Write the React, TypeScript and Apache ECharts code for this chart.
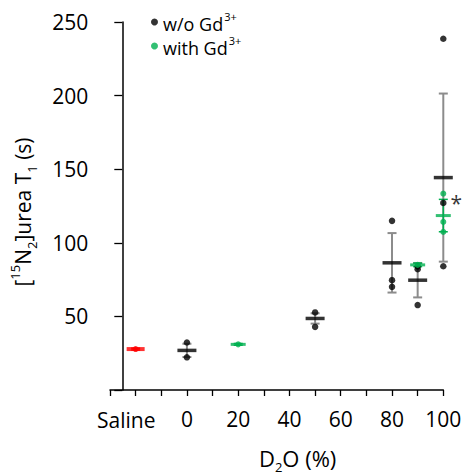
import React, { useEffect, useRef } from 'react';
import * as echarts from 'echarts';

// ---- data ----
const salineX = [-20];
const salineMean = [27.8];
const salineErr = [0.6];
const salinePoints: [number, number][] = [[-20, 27.8]];

const blackX = [0, 50, 80, 90, 100];
const blackMean = [26.9, 48.6, 86.4, 74.6, 144.3];
const blackErr = [4.5, 3.5, 20.2, 11.7, 57.1];
const blackPoints: [number, number][] = [
  [0, 32.3], [0, 22.2],
  [50, 52.7], [50, 42.9],
  [80, 114.9], [80, 74.6], [80, 70.1],
  [90, 84.0], [90, 82.1], [90, 57.7],
  [100, 238.6], [100, 127.1], [100, 84.1],
];

const greenX = [20, 90, 100];
const greenMean = [31.0, 85.0, 118.5];
const greenErr = [0.6, 1.2, 11.0];
const greenPoints: [number, number][] = [
  [20, 31.0], [90, 85.0],
  [100, 133.4], [100, 114.2], [100, 107.4],
];

const xLabels = [0, 20, 40, 60, 80, 100];
const yTicks = [50, 100, 150, 200, 250];
const starPoint: [number, number] = [100, 127.1];

const FONT = 'Open Sans';

function errData(xs: number[], m: number[], e: number[]) {
  return xs.map((x, i) => [x, m[i] - e[i], m[i] + e[i]]);
}
function meanData(xs: number[], m: number[]) {
  return xs.map((x, i) => [x, m[i]]);
}

function errSeries(name: string, data: number[][], color: string, lw: number) {
  return {
    type: 'custom',
    name,
    data,
    z: 2,
    renderItem: (_p: any, api: any) => {
      const x = api.value(0);
      const lo = api.coord([x, api.value(1)]);
      const hi = api.coord([x, api.value(2)]);
      const cap = 4.5;
      const st = { stroke: color, lineWidth: lw };
      return {
        type: 'group',
        children: [
          { type: 'line', shape: { x1: lo[0], y1: lo[1], x2: hi[0], y2: hi[1] }, style: st },
          { type: 'line', shape: { x1: lo[0] - cap, y1: lo[1], x2: lo[0] + cap, y2: lo[1] }, style: st },
          { type: 'line', shape: { x1: hi[0] - cap, y1: hi[1], x2: hi[0] + cap, y2: hi[1] }, style: st },
        ],
      };
    },
  };
}

export default function App() {
  const ref = useRef<HTMLDivElement>(null);
  useEffect(() => {
    if (!ref.current) return;
    const chart = echarts.init(ref.current, null, { renderer: 'svg' });
    const GREEN = '#00b050';
    const option: any = {
      animation: false,
      backgroundColor: '#ffffff',
      textStyle: { fontFamily: FONT },
      grid: { left: 110, right: 19.7, top: 22, bottom: 84, containLabel: false, outerBoundsMode: 'none' },
      legend: {
        data: ['wo', 'with'],
        orient: 'vertical',
        left: 146,
        top: 6,
        icon: 'circle',
        itemWidth: 7,
        itemHeight: 7,
        itemGap: 2,
        formatter: (n: string) => (n === 'wo' ? '{a|w/o Gd}{s|3+}' : '{a|with Gd}{s|3+}'),
        textStyle: {
          rich: {
            a: { fontFamily: FONT, fontSize: 18, color: '#000', lineHeight: 22, verticalAlign: 'bottom' },
            s: { fontFamily: FONT, fontSize: 11, color: '#000', lineHeight: 22, verticalAlign: 'top', padding: [0, 0, 0, 1] },
          },
        },
      },
      xAxis: {
        type: 'value',
        min: -30,
        max: 100,
        interval: 10,
        name: '{a|D}{b|2}{a|O (%)}',
        nameLocation: 'middle',
        nameGap: 57,
        nameTextStyle: {
          padding: [0, 0, 0, 42],
          rich: {
            a: { fontFamily: FONT, fontSize: 22, color: '#000', lineHeight: 26, verticalAlign: 'top' },
            b: { fontFamily: FONT, fontSize: 13, color: '#000', lineHeight: 12, verticalAlign: 'bottom' },
          },
        },
        axisLine: { onZero: false, lineStyle: { color: '#000', width: 1.5 } },
        axisTick: { show: true, length: 6, lineStyle: { color: '#000', width: 1.3 } },
        splitLine: { show: false },
        axisLabel: {
          margin: 18,
          fontFamily: FONT,
          fontSize: 21,
          color: '#000',
          showMinLabel: true,
          showMaxLabel: true,
          formatter: (v: number) => (xLabels.indexOf(v) >= 0 ? String(v) : ''),
        },
      },
      yAxis: {
        type: 'value',
        min: 0,
        max: 250,
        interval: 50,
        offset: -12.3,
        name: '{a|[}{s|15}{a|N}{b|2}{a|]urea T}{b|1}{a| (s)}',
        nameLocation: 'middle',
        nameRotate: 90,
        nameGap: 84,
        nameTextStyle: {
          padding: [0, 12, 0, 0],
          rich: {
            a: { fontFamily: FONT, fontSize: 21, color: '#000', lineHeight: 30, verticalAlign: 'middle' },
            s: { fontFamily: FONT, fontSize: 13, color: '#000', lineHeight: 30, verticalAlign: 'top' },
            b: { fontFamily: FONT, fontSize: 13, color: '#000', lineHeight: 30, verticalAlign: 'bottom' },
          },
        },
        axisLine: { show: true, onZero: false, lineStyle: { color: '#000', width: 1.5 } },
        axisTick: { show: true, length: 8, lineStyle: { color: '#000', width: 1.3 } },
        splitLine: { show: false },
        axisLabel: {
          margin: 34,
          fontFamily: FONT,
          fontSize: 21,
          color: '#000',
          formatter: (v: number) => (yTicks.indexOf(v) >= 0 ? String(v) : ''),
        },
      },
      graphic: [
        {
          type: 'text',
          left: 97,
          top: 409,
          style: { text: 'Saline', fontFamily: FONT, fontSize: 21, fill: '#000' },
        },
      ],
      series: [
        errSeries('errBlack', errData(blackX, blackMean, blackErr), '#8c8c8c', 2),
        errSeries('errGreen', errData(greenX, greenMean, greenErr), GREEN, 1.5),
        errSeries('errRed', errData(salineX, salineMean, salineErr), '#ff0000', 1.5),
        {
          type: 'scatter',
          name: 'wo',
          data: blackPoints.map((p) =>
            p[0] === starPoint[0] && p[1] === starPoint[1]
              ? {
                  value: p,
                  label: {
                    show: true,
                    formatter: '*',
                    position: 'right',
                    distance: 4,
                    fontFamily: FONT,
                    fontSize: 21,
                    color: '#000',
                  },
                }
              : p
          ),
          symbol: 'circle',
          symbolSize: 6.5,
          itemStyle: { color: '#000' },
          z: 3,
        },
        {
          type: 'scatter',
          name: 'meanBlack',
          data: meanData(blackX, blackMean),
          symbol: 'rect',
          symbolSize: [19, 3.5],
          itemStyle: { color: '#000' },
          z: 4,
        },
        {
          type: 'scatter',
          name: 'with',
          data: greenPoints,
          symbol: 'circle',
          symbolSize: 6,
          itemStyle: { color: GREEN },
          z: 5,
        },
        {
          type: 'scatter',
          name: 'meanGreen',
          data: meanData(greenX, greenMean),
          symbol: 'rect',
          symbolSize: [15, 3],
          itemStyle: { color: GREEN },
          z: 6,
        },
        {
          type: 'scatter',
          name: 'salinePts',
          data: salinePoints,
          symbol: 'circle',
          symbolSize: 6,
          itemStyle: { color: '#ff0000' },
          z: 5,
        },
        {
          type: 'scatter',
          name: 'meanSaline',
          data: meanData(salineX, salineMean),
          symbol: 'rect',
          symbolSize: [18, 4],
          itemStyle: { color: '#ff0000' },
          z: 6,
        },
      ],
    };
    chart.setOption(option);
    return () => chart.dispose();
  }, []);
  return (
    <div
      ref={ref}
      style={{ position: 'absolute', left: 0, top: 0, width: 463, height: 474, background: '#fff' }}
    />
  );
}
